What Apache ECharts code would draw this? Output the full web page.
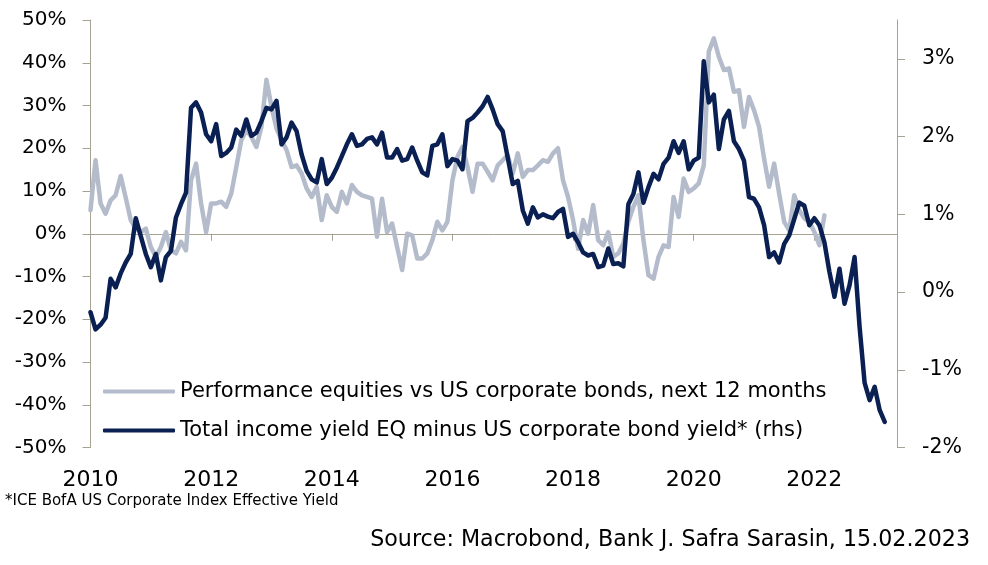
<!DOCTYPE html>
<html>
<head>
<meta charset="utf-8">
<script src="https://cdn.jsdelivr.net/npm/echarts@6/dist/echarts.min.js"></script>
<style>
  html, body { margin: 0; padding: 0; background: #fff; }
  #chart { width: 988px; height: 565px; }
</style>
</head>
<body>
<div id="chart"></div>
<script>
// monthly data, Jan 2010 onwards
var startYear = 2010;
var seriesNames = [
  'Performance equities vs US corporate bonds, next 12 months',
  'Total income yield EQ minus US corporate bond yield* (rhs)'
];
// equities vs bonds performance, next 12 months (%), left axis
var perfEquities = [
  5.5, 17.2, 7.1, 4.7, 7.8, 9.0, 13.5, 8.5, 3.2, 1.2, 0.4, 1.2,
  -3.1, -5.4, -3.1, 0.4, -3.9, -4.6, -1.9, -3.9, 12.5, 16.4, 7.1, 0.4,
  7.1, 7.1, 7.5, 6.3, 9.4, 15.6, 21.9, 24.2, 22.7, 20.3, 25.0, 36.0,
  29.7, 24.6, 21.9, 19.6, 15.6, 16.0, 14.1, 10.6, 8.6, 11.0, 3.2, 9.0,
  6.3, 5.1, 9.8, 7.1, 11.4, 9.8, 9.0, 8.6, 8.2, -0.7, 8.2, 0.4,
  2.4, -3.1, -8.5, 0.0, -0.4, -5.8, -5.8, -4.6, -1.5, 2.8, 0.8, 2.8,
  12.5, 18.0, 20.3, 15.6, 9.8, 16.4, 16.4, 14.5, 12.5, 16.0, 17.2, 18.4,
  14.1, 18.8, 13.3, 14.9, 14.9, 16.0, 17.2, 16.8, 18.8, 20.0, 12.5, 8.6,
  3.2, -3.5, 3.2, 0.0, 6.7, -1.5, -2.7, 0.4, -5.4, -4.6, -2.3, 2.8,
  6.3, 9.0, -1.5, -9.7, -10.5, -5.4, -2.7, -3.1, 8.6, 3.9, 12.9, 9.8,
  10.6, 11.8, 16.0, 42.6, 45.7, 41.4, 38.3, 38.7, 33.2, 33.6, 25.0, 32.0,
  28.9, 25.0, 17.6, 11.0, 16.4, 9.4, 2.8, 0.8, 9.0, 5.5, 3.6, 2.8,
  0.4, -2.7, 4.3
];
// income yield gap (%), right axis
var yieldGap = [
  -0.26, -0.48, -0.42, -0.33, 0.17, 0.06, 0.24, 0.38, 0.49, 0.95, 0.72, 0.49,
  0.32, 0.49, 0.15, 0.45, 0.53, 0.96, 1.13, 1.28, 2.37, 2.44, 2.31, 2.03,
  1.94, 2.16, 1.75, 1.79, 1.86, 2.09, 2.01, 2.22, 2.01, 2.05, 2.20, 2.37,
  2.35, 2.46, 1.90, 1.99, 2.18, 2.07, 1.77, 1.56, 1.45, 1.41, 1.71, 1.39,
  1.47, 1.60, 1.75, 1.90, 2.03, 1.88, 1.90, 1.97, 1.99, 1.90, 2.05, 1.73,
  1.73, 1.84, 1.69, 1.71, 1.86, 1.69, 1.54, 1.50, 1.88, 1.90, 2.03, 1.62,
  1.71, 1.69, 1.58, 2.20, 2.24, 2.31, 2.39, 2.51, 2.35, 2.16, 2.07, 1.73,
  1.39, 1.43, 1.05, 0.88, 1.09, 0.96, 1.00, 0.97, 0.95, 1.03, 1.07, 0.71,
  0.75, 0.64, 0.51, 0.47, 0.49, 0.32, 0.34, 0.56, 0.36, 0.37, 0.33, 1.13,
  1.26, 1.54, 1.15, 1.35, 1.52, 1.45, 1.65, 1.73, 1.94, 1.79, 1.94, 1.58,
  1.69, 1.73, 2.97, 2.44, 2.54, 1.84, 2.22, 2.33, 1.94, 1.84, 1.69, 1.22,
  1.20, 1.09, 0.86, 0.45, 0.51, 0.38, 0.62, 0.73, 0.94, 1.15, 1.11, 0.86,
  0.95, 0.86, 0.64, 0.26, -0.06, 0.30, -0.15, 0.09, 0.45, -0.45, -1.17, -1.39,
  -1.22, -1.52, -1.67
];
var leftTicks = { min: -50, max: 50, step: 10 };
var rightTicks = { min: -2, max: 3.5, step: 1 };
var yearTicks = { min: 2010, max: 2023.37, step: 2 };
var footnote = '*ICE BofA US Corporate Index Effective Yield';
var source = 'Source: Macrobond, Bank J. Safra Sarasin, 15.02.2023';

function toPoints(arr) {
  return arr.map(function (v, i) { return [startYear + i / 12, v]; });
}

var axisColor = '#A8A294';
var grayColor = '#B4BCCB';
var navyColor = '#0A1F52';
var fontFam = 'DejaVu Sans';

var chart = echarts.init(document.getElementById('chart'), null, { renderer: 'canvas' });

var option = {
  backgroundColor: '#fff',
  animation: false,
  textStyle: { fontFamily: fontFam },
  grid: { left: 90.5, right: 91, top: 20, bottom: 117.5, containLabel: false },
  legend: {
    orient: 'vertical',
    left: 98,
    top: 376,
    itemWidth: 72,
    itemHeight: 4,
    itemGap: 18,
    textStyle: { fontSize: 21, color: '#000', fontFamily: fontFam },
    data: [
      { name: seriesNames[0], icon: 'roundRect', itemStyle: { color: grayColor } },
      { name: seriesNames[1], icon: 'roundRect', itemStyle: { color: navyColor } }
    ]
  },
  xAxis: [
    {
      type: 'value',
      min: yearTicks.min,
      max: yearTicks.max,
      interval: yearTicks.step,
      axisLine: { onZero: true, lineStyle: { color: axisColor, width: 1 } },
      axisTick: { show: true, length: 7, lineStyle: { color: axisColor } },
      axisLabel: { show: false },
      splitLine: { show: false }
    },
    {
      type: 'value',
      position: 'bottom',
      min: yearTicks.min,
      max: yearTicks.max,
      interval: yearTicks.step,
      axisLine: { show: false, onZero: false },
      axisTick: { show: false },
      axisLabel: {
        margin: 22,
        fontSize: 22,
        color: '#000',
        showMaxLabel: false,
        formatter: function (v) { return String(Math.round(v)); }
      },
      splitLine: { show: false }
    }
  ],
  yAxis: [
    {
      type: 'value',
      min: leftTicks.min,
      max: leftTicks.max,
      interval: leftTicks.step,
      axisLine: { show: true, lineStyle: { color: axisColor } },
      axisTick: { show: true, length: 8, lineStyle: { color: axisColor } },
      axisLabel: { margin: 24, fontSize: 20, color: '#000', formatter: '{value}%' },
      splitLine: { show: false }
    },
    {
      type: 'value',
      position: 'right',
      min: rightTicks.min,
      max: rightTicks.max,
      interval: rightTicks.step,
      axisLine: { show: true, lineStyle: { color: axisColor } },
      axisTick: { show: true, length: 8, lineStyle: { color: axisColor } },
      axisLabel: { margin: 25, fontSize: 20.5, color: '#000', showMaxLabel: false, formatter: '{value}%' },
      splitLine: { show: false }
    }
  ],
  series: [
    {
      name: seriesNames[0],
      type: 'line',
      xAxisIndex: 0,
      yAxisIndex: 0,
      symbol: 'none',
      lineStyle: { color: grayColor, width: 4.5, cap: 'round', join: 'round' },
      itemStyle: { color: grayColor },
      data: toPoints(perfEquities)
    },
    {
      name: seriesNames[1],
      type: 'line',
      xAxisIndex: 0,
      yAxisIndex: 1,
      symbol: 'none',
      lineStyle: { color: navyColor, width: 4.5, cap: 'round', join: 'round' },
      itemStyle: { color: navyColor },
      data: toPoints(yieldGap)
    }
  ],
  graphic: [
    {
      type: 'text',
      left: 5,
      top: 494,
      style: { text: footnote, fontSize: 15, fill: '#000', fontFamily: fontFam }
    },
    {
      type: 'text',
      right: 18,
      top: 529,
      style: { text: source, fontSize: 22.2, fill: '#000', fontFamily: fontFam }
    }
  ]
};

chart.setOption(option);
</script>
</body>
</html>
